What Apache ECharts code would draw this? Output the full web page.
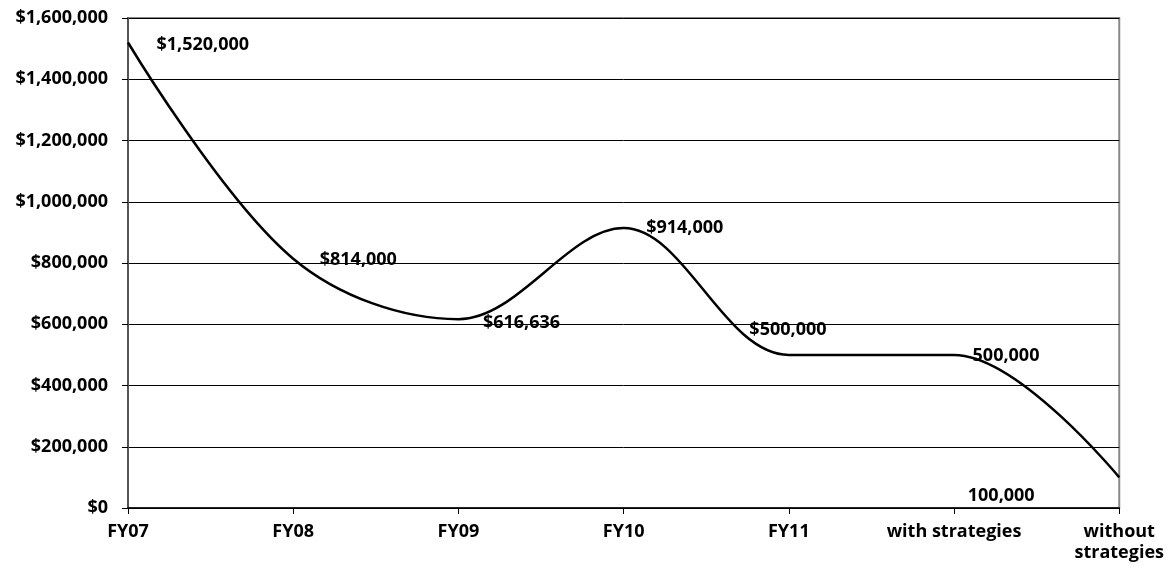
<!DOCTYPE html>
<html>
<head>
    <meta charset="utf-8">
    <title>ECharts</title>
    <script src="https://cdn.jsdelivr.net/npm/echarts@6/dist/echarts.min.js"></script>
</head>
<style>
    *{
        padding: 0;
        margin: 0;
    }
    #main {
        width: 1167px;
        height: 582px;
        position: absolute;
        background: #fff;
    }
</style>
<body>
    <div id="main"></div>
    <script type="text/javascript">
    var categories = ['FY07', 'FY08', 'FY09', 'FY10', 'FY11', 'with strategies', 'without\nstrategies'];
    var values = [1520000, 814000, 616636, 914000, 500000, 500000, 100000];
    var labelTexts = ['$1,520,000', '$814,000', '$616,636', '$914,000', '$500,000', '500,000', '100,000'];
    // label offsets (px) for each point, like the placement in the original
    var labelOffsets = [[23, 2], [21, 1], [19, 4], [17, 0], [-45, -25], [13, 1], [-157, 18]];

    var font = 'Open Sans';
    var fs = 18;
    var myChart = echarts.init(document.getElementById('main'));

    var seriesData = values.map(function (v, i) {
        return {
            value: v,
            label: {
                show: true,
                position: 'right',
                offset: labelOffsets[i],
                formatter: labelTexts[i]
            }
        };
    });

    option = {
        animation: false,
        grid: {
            left: 128, right: 47, top: 18, bottom: 74,
            show: true,
            borderColor: '#888',
            borderWidth: 2
        },
        xAxis: {
            type: 'category',
            data: categories,
            boundaryGap: false,
            axisLine: { lineStyle: { color: '#000', width: 1.5 } },
            axisTick: { show: true, length: 6, lineStyle: { color: '#000' } },
            axisLabel: {
                margin: 13,
                color: '#000',
                fontFamily: font,
                fontWeight: 'bold',
                fontSize: fs,
                lineHeight: 21,
                interval: 0
            },
            splitLine: { show: false }
        },
        yAxis: {
            type: 'value',
            min: 0,
            max: 1600000,
            interval: 200000,
            axisLine: { show: true, lineStyle: { color: '#555', width: 2 } },
            axisTick: { show: true, length: 6, lineStyle: { color: '#000' } },
            axisLabel: {
                margin: 20,
                color: '#000',
                fontFamily: font,
                fontWeight: 'bold',
                fontSize: fs,
                formatter: function (v) {
                    return '$' + v.toLocaleString('en-US');
                }
            },
            splitLine: { lineStyle: { color: '#000', width: 1 } }
        },
        series: [{
            type: 'line',
            data: seriesData,
            smooth: 0.35,
            symbol: 'circle',
            symbolSize: 1,
            showSymbol: true,
            itemStyle: { color: 'rgba(0,0,0,0)' },
            lineStyle: { color: '#000', width: 2.5 },
            label: {
                color: '#000',
                fontFamily: font,
                fontWeight: 'bold',
                fontSize: fs
            }
        }]
    };
    myChart.setOption(option);
    </script>
</body>
</html>
